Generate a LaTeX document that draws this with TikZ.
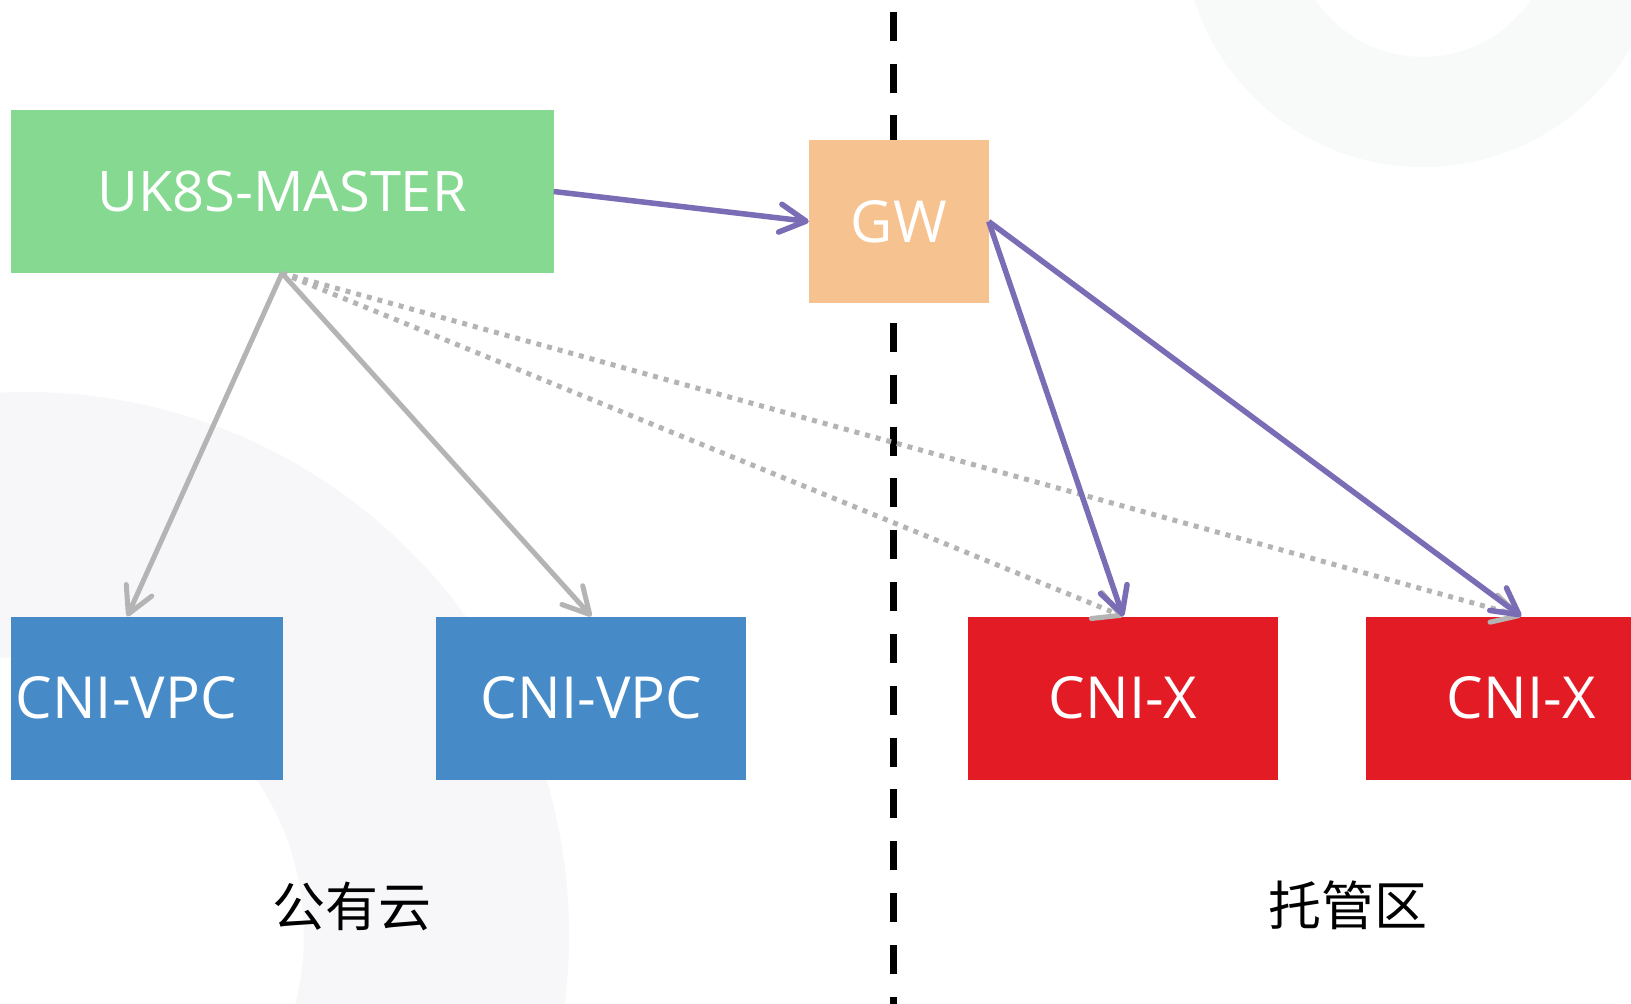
\documentclass[tikz,border=0pt]{standalone}
\usepackage{fontspec}
\newfontfamily\boxfont{Open Sans}
\newfontfamily\cjkfont{Noto Sans CJK SC}
\usetikzlibrary{positioning}
\usetikzlibrary{arrows.meta}
\definecolor{mastergreen}{RGB}{134,217,144}
\definecolor{gworange}{RGB}{246,194,143}
\definecolor{vpcblue}{RGB}{70,139,200}
\definecolor{cnixred}{RGB}{227,27,36}
\definecolor{routepurple}{RGB}{123,109,181}
\definecolor{linkgray}{RGB}{180,180,180}
\definecolor{ringgray}{RGB}{247,247,249}
\definecolor{ringgreen}{RGB}{248,249,249}

\begin{document}
\begin{tikzpicture}
  [
    x=1pt,y=-1pt,
    >={Straight Barb[length=26pt,width=28pt,round]},
    box/.style={
      rectangle,
      inner sep=0pt,
      minimum height=163pt,
      text=white,
      font=\boxfont\fontsize{58pt}{62pt}\selectfont
    },
    link/.style={draw=linkgray,line width=5pt,->},
    probe/.style={draw=linkgray,line width=5pt,dash pattern=on 5pt off 6pt,->},
    route/.style={draw=routepurple,line width=5.5pt,->},
    divider/.style={draw=black,line width=7pt,dash pattern=on 29pt off 22.85pt},
    zone/.style={font=\cjkfont\fontsize{53pt}{60pt}\selectfont,inner sep=0pt},
  ]
  \useasboundingbox (0,0) rectangle (1631,1004);
  \clip (0,0) rectangle (1631,1004);
  \fill[white] (0,0) rectangle (1631,1004);

  % background rings
  \fill[ringgray,even odd rule] (26,935) circle[radius=543pt] (26,935) circle[radius=278pt];
  \fill[ringgreen,even odd rule] (1423,-73) circle[radius=240pt] (1423,-73) circle[radius=130pt];

  \coordinate (cut-top) at (893.5,11.7);
  \coordinate (cut-bot) at (893.5,1010);
  \draw[divider] (cut-top) -- (cut-bot);

  \node[box,fill=mastergreen,minimum width=543pt,font=\boxfont\fontsize{56pt}{60pt}\selectfont] (master) at (282,191.5) {UK8S-MASTER};
  \node[box,fill=gworange,minimum width=179.5pt]  (gw)     at (898.75,221.5) {GW};
  \node[box,fill=vpcblue,inner xsep=5pt,text width=262.5pt,align=left] (vpc-a) at (146.75,698) {CNI-VPC};
  \node[box,fill=vpcblue,minimum width=310pt,right=153pt of vpc-a]  (vpc-b)  {CNI-VPC};
  \node[box,fill=cnixred,minimum width=310.5pt,right=221pt of vpc-b] (cnix-a) {CNI-X};
  \node[box,fill=cnixred,minimum width=310pt,right=87.5pt of cnix-a] (cnix-b) {CNI-X};

  \node[zone] (public) at (352,906)  {公有云};
  \node[zone] (hosted) at (1348,905) {托管区};

  \coordinate (vpc-a-in) at ([xshift=117pt]vpc-a.north west);

  \draw[link]  (master.south) -- (vpc-a-in);
  \draw[link]  (master.south) -- (vpc-b.north);
  \draw[probe] (master.south) -- (cnix-a.north);
  \draw[probe] (master.south) -- (cnix-b.north);
  \draw[route] (master.east)  -- (gw.west);
  \draw[route] (gw.east)      -- (cnix-a.north);
  \draw[route] (gw.east)      -- (cnix-b.north);
\end{tikzpicture}
\end{document}
